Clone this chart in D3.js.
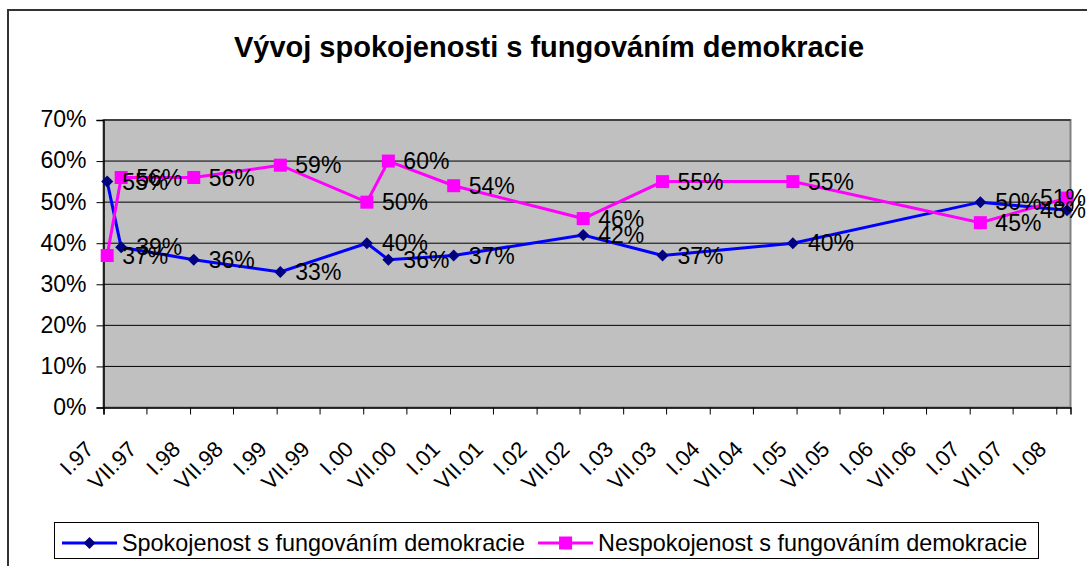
<!DOCTYPE html>
<html>
<head>
<meta charset="utf-8">
<script src="https://cdn.jsdelivr.net/npm/d3@7.9.0/dist/d3.min.js"></script>
<style>
  body { margin: 0; background: #fff; }
  svg { display: block; font-family: Arial, "Liberation Sans", sans-serif; }
</style>
</head>
<body>
<svg id="chart" width="1087" height="566"></svg>
<script>
// survey months (year, month 1-12)
const surveyMonths = [
  "1997-01", "1997-03", "1998-01", "1999-01", "2000-01", "2000-04",
  "2001-01", "2002-07", "2003-06", "2004-12", "2007-02", "2008-02"
];
const satisfied = [55, 39, 36, 33, 40, 36, 37, 42, 37, 40, 50, 48];
const dissatisfied = [37, 56, 56, 59, 50, 60, 54, 46, 55, 55, 45, 51];
const tickLabels = [
  "I.97", "VII.97", "I.98", "VII.98", "I.99", "VII.99", "I.00", "VII.00",
  "I.01", "VII.01", "I.02", "VII.02", "I.03", "VII.03", "I.04", "VII.04",
  "I.05", "VII.05", "I.06", "VII.06", "I.07", "VII.07", "I.08"
];
const yTicks = [0, 10, 20, 30, 40, 50, 60, 70];
const seriesNames = [
  "Spokojenost s fungováním demokracie",
  "Nespokojenost s fungováním demokracie"
];

const svg = d3.select("#chart");

// middle of the month, like an Excel date axis
function midMonth(s) {
  const [y, m] = s.split("-").map(Number);
  const a = new Date(y, m - 1, 1);
  const b = new Date(y, m, 1);
  return new Date((a.getTime() + b.getTime()) / 2);
}
const dates = surveyMonths.map(midMonth);

const plot = { left: 103.5, right: 1070.5, top: 120, bottom: 407.5 };
const chartRight = 1086;

const x = d3.scaleTime()
  .domain([new Date(1997, 0, 1), new Date(2008, 2, 1)])
  .range([plot.left, plot.right]);

const y = d3.scaleLinear()
  .domain([0, 70])
  .range([plot.bottom, plot.top]);

// excel style diamond (square turned 45 degrees)
const excelDiamond = {
  draw(context, size) {
    const h = Math.sqrt(size / 2);
    context.moveTo(0, -h);
    context.lineTo(h, 0);
    context.lineTo(0, h);
    context.lineTo(-h, 0);
    context.closePath();
  }
};

// outer frame (runs off the right and bottom edges)
svg.append("rect")
  .attr("x", 8).attr("y", 10)
  .attr("width", 1200).attr("height", 700)
  .attr("fill", "none")
  .attr("stroke", "#333")
  .attr("stroke-width", 2);

svg.append("text")
  .attr("x", 549).attr("y", 57)
  .attr("text-anchor", "middle")
  .attr("font-size", 29)
  .attr("font-weight", "bold")
  .text("Vývoj spokojenosti s fungováním demokracie");

// plot area
svg.append("rect")
  .attr("x", plot.left).attr("y", plot.top)
  .attr("width", plot.right - plot.left)
  .attr("height", plot.bottom - plot.top)
  .attr("fill", "#c0c0c0")
  .attr("stroke", "#808080")
  .attr("stroke-width", 2);

svg.append("g")
  .selectAll("line")
  .data(yTicks.slice(1))
  .join("line")
  .attr("x1", plot.left).attr("x2", plot.right)
  .attr("y1", (d) => y(d)).attr("y2", (d) => y(d))
  .attr("stroke", "#000")
  .attr("stroke-width", 1);

// y axis
const yAxis = svg.append("g")
  .attr("transform", `translate(${plot.left},0)`)
  .call(d3.axisLeft(y).tickValues(yTicks).tickSize(7).tickPadding(10)
    .tickFormat((d) => d + "%"));
yAxis.select(".domain").attr("stroke", "#000").attr("stroke-width", 1.5);
yAxis.selectAll(".tick line").attr("stroke", "#000");
yAxis.selectAll("text")
  .attr("font-size", 23)
  .attr("font-family", "Arial, 'Liberation Sans', sans-serif")
  .attr("fill", "#000")
  .attr("dy", "0.3em");

// x axis
const xTickDates = d3.timeMonth.every(6).range(new Date(1997, 0, 1), new Date(2008, 1, 1));
const xAxis = svg.append("g")
  .attr("transform", `translate(0,${plot.bottom})`)
  .call(d3.axisBottom(x).tickValues(xTickDates).tickSize(7)
    .tickFormat((d, i) => tickLabels[i]));
xAxis.select(".domain").attr("stroke", "#000").attr("stroke-width", 1.5);
xAxis.selectAll(".tick line").attr("stroke", "#000");
xAxis.selectAll("text")
  .attr("font-size", 22)
  .attr("font-family", "Arial, 'Liberation Sans', sans-serif")
  .attr("fill", "#000")
  .attr("text-anchor", "end")
  .attr("dy", 0)
  .attr("y", 0)
  .attr("transform", "translate(-9,43) rotate(-45)");

const line = d3.line()
  .x((d, i) => x(dates[i]))
  .y((d) => y(d));

const series = [
  { name: seriesNames[0], values: satisfied, color: "#0000ff", marker: "#000080", shape: excelDiamond, size: 72 },
  { name: seriesNames[1], values: dissatisfied, color: "#ff00ff", marker: "#ff00ff", shape: d3.symbolSquare, size: 169 }
];

series.forEach((s) => {
  svg.append("path")
    .datum(s.values)
    .attr("d", line)
    .attr("fill", "none")
    .attr("stroke", s.color)
    .attr("stroke-width", 3);

  svg.append("g")
    .selectAll("path")
    .data(s.values)
    .join("path")
    .attr("d", d3.symbol(s.shape, s.size))
    .attr("transform", (d, i) => `translate(${x(dates[i])},${y(d)})`)
    .attr("fill", s.marker);
});

// data labels, pushed back inside the chart when they would run off it
series.forEach((s) => {
  svg.append("g")
    .selectAll("text")
    .data(s.values)
    .join("text")
    .attr("x", (d, i) => x(dates[i]) + 15)
    .attr("y", (d) => y(d) + 8)
    .attr("font-size", 23)
    .attr("fill", "#000")
    .text((d) => d + "%")
    .each(function () {
      const t = d3.select(this);
      const w = this.getComputedTextLength();
      if (+t.attr("x") + w > chartRight) {
        t.attr("x", chartRight).attr("text-anchor", "end");
      }
    });
});

// legend
const legend = svg.append("g");
legend.append("rect")
  .attr("x", 54.5).attr("y", 522.5)
  .attr("width", 984).attr("height", 36)
  .attr("fill", "#fff")
  .attr("stroke", "#000")
  .attr("stroke-width", 1);

let lx = 62;
series.forEach((s) => {
  legend.append("line")
    .attr("x1", lx).attr("x2", lx + 55)
    .attr("y1", 543).attr("y2", 543)
    .attr("stroke", s.color)
    .attr("stroke-width", 3);
  legend.append("path")
    .attr("d", d3.symbol(s.shape, s.size))
    .attr("transform", `translate(${lx + 27.5},543)`)
    .attr("fill", s.marker);
  const t = legend.append("text")
    .attr("x", lx + 60)
    .attr("y", 551)
    .attr("font-size", 23.4)
    .attr("fill", "#000")
    .text(s.name);
  lx += 60 + t.node().getComputedTextLength() + 13;
});
</script>
</body>
</html>
